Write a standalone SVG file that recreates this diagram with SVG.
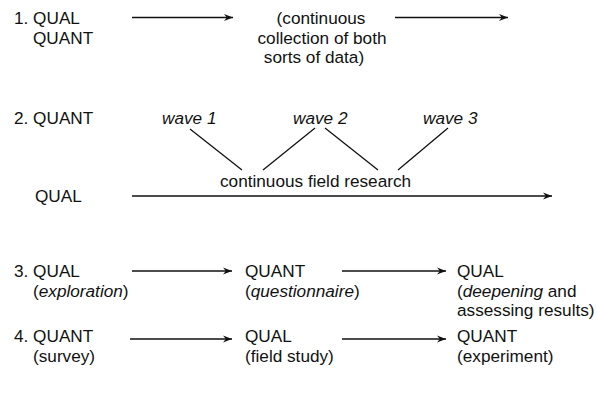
<svg xmlns="http://www.w3.org/2000/svg" width="597" height="404" viewBox="0 0 597 404">
<style>
text{font-family:"Liberation Sans",Arial,sans-serif;font-size:17.2px;fill:#111}
.i{font-style:italic}
.c{text-anchor:middle}
.ln{stroke:#111;stroke-width:1.3;fill:none}
.ar{stroke:#111;stroke-width:1.3;fill:none;marker-end:url(#ah)}
</style>
<defs>
<marker id="ah" markerUnits="userSpaceOnUse" markerWidth="11" markerHeight="9" refX="9" refY="4.5" orient="auto">
<path d="M0,1 L9,4.5 L0,8 L2.8,4.5 Z" fill="#111"/>
</marker>
</defs>
<g id="connectors">
<line class="ar" x1="132" y1="17.5" x2="233" y2="17.5"/>
<line class="ar" x1="395" y1="17.5" x2="508" y2="17.5"/>
<line class="ln" x1="190" y1="129" x2="242" y2="170"/>
<line class="ln" x1="315" y1="128" x2="263" y2="170"/>
<line class="ln" x1="325" y1="128" x2="378" y2="170"/>
<line class="ln" x1="448" y1="128" x2="398" y2="170"/>
<line class="ar" x1="132" y1="196" x2="552" y2="196"/>
<line class="ar" x1="132" y1="271" x2="232" y2="271"/>
<line class="ar" x1="342" y1="271" x2="446" y2="271"/>
<line class="ar" x1="130" y1="339" x2="232" y2="339"/>
<line class="ar" x1="342" y1="339" x2="446" y2="339"/>
</g>
<g id="row1">
<text x="14" y="24">1. QUAL</text>
<text x="33" y="43.5">QUANT</text>
<g id="row1-note">
<text class="c" x="321" y="24">(continuous</text>
<text class="c" x="322" y="43.5">collection of both</text>
<text class="c" x="314" y="63">sorts of data)</text>
</g>
</g>
<g id="row2">
<text x="14" y="124">2. QUANT</text>
<text class="i" x="162" y="124">wave 1</text>
<text class="i" x="293" y="124">wave 2</text>
<text class="i" x="423" y="124">wave 3</text>
<text x="220" y="187">continuous field research</text>
<text x="35" y="202">QUAL</text>
</g>
<g id="row3">
<g id="r3a"><text x="14" y="277">3. QUAL</text><text x="33" y="296.5">(<tspan class="i">exploration</tspan>)</text></g>
<g id="r3b"><text x="245" y="277">QUANT</text><text x="245" y="296.5">(<tspan class="i">questionnaire</tspan>)</text></g>
<g id="r3c"><text x="457" y="277">QUAL</text><text x="457" y="296.5">(<tspan class="i">deepening</tspan> and</text><text x="457" y="316">assessing results)</text></g>
</g>
<g id="row4">
<g id="r4a"><text x="14" y="342">4. QUANT</text><text x="33" y="361.5">(survey)</text></g>
<g id="r4b"><text x="245" y="342">QUAL</text><text x="245" y="361.5">(field study)</text></g>
<g id="r4c"><text x="457" y="342">QUANT</text><text x="457" y="361.5">(experiment)</text></g>
</g>
</svg>
